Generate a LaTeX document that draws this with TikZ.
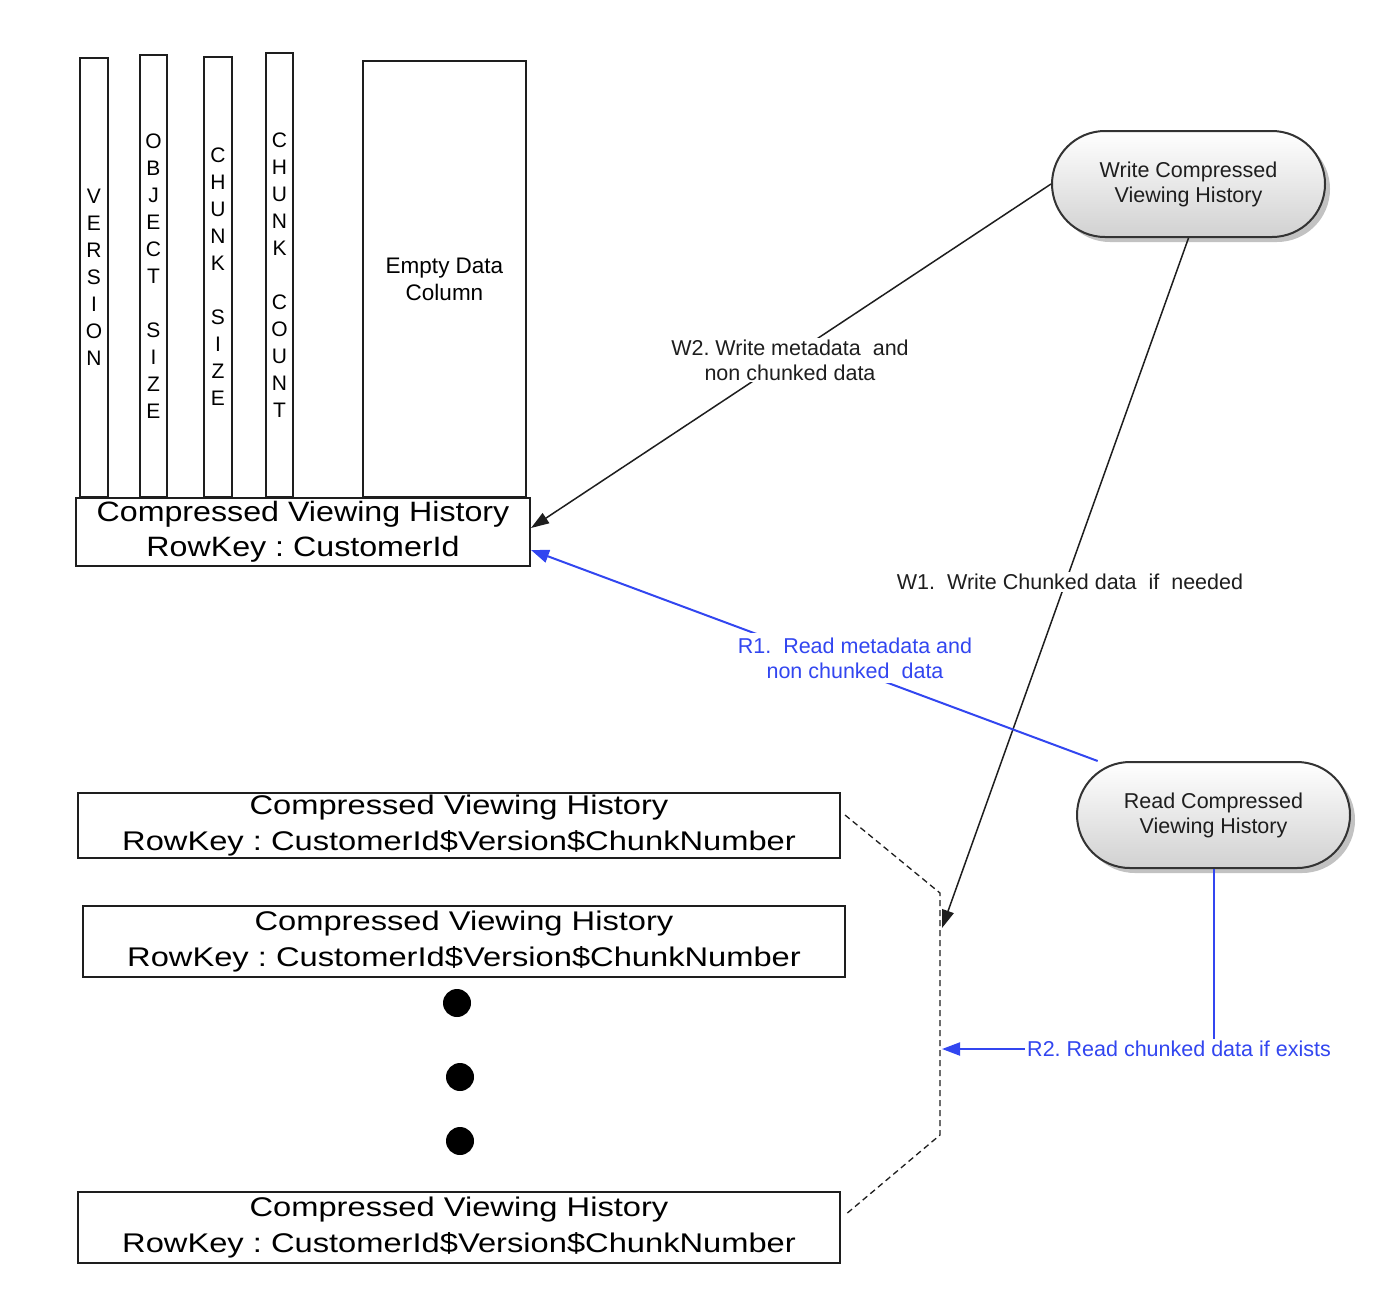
\documentclass[tikz,border=0pt]{standalone}
\usepackage{fontspec}
\setmainfont{Liberation Sans}
\newfontfamily\hdrfont[FakeStretch=1.15]{Liberation Sans}
\newfontfamily\rowfont[FakeStretch=1.21]{Liberation Sans}
\usetikzlibrary{arrows.meta,shadows}
\definecolor{rblue}{RGB}{50,70,240}
\definecolor{ink}{RGB}{30,30,30}
\frenchspacing
\begin{document}
\begin{tikzpicture}[x=1pt,y=-1pt,
  colbox/.style={draw=ink,line width=2pt,inner sep=0pt,align=center,font=\fontsize{21}{27}\selectfont},
  hdrbox/.style={draw=ink,line width=2pt,fill=white,inner sep=0pt,minimum width=454pt,minimum height=68pt,align=center,font=\hdrfont\fontsize{28}{35}\selectfont},
  chunkbox/.style={draw=ink,line width=2pt,fill=white,inner sep=0pt,minimum width=762pt,align=center,font=\rowfont\fontsize{27}{36}\selectfont},
  proc/.style={draw=black!80,line width=2pt,rounded corners=53pt,minimum width=273pt,minimum height=106pt,top color=white,bottom color=black!18,align=center,font=\fontsize{21.5}{25}\selectfont,text=ink,drop shadow={shadow xshift=5pt,shadow yshift=-5pt,fill=black!40,opacity=0.6}},
  lbl/.style={fill=white,inner sep=2pt,align=center,font=\fontsize{21.5}{25}\selectfont,text=ink},
  blbl/.style={lbl,text=rblue},
  warrow/.style={draw=ink,line width=1.5pt,-{Triangle[length=18pt,width=12pt]}},
  rarrow/.style={draw=rblue,line width=2pt,-{Triangle[length=18pt,width=13pt]}},
  dot/.style={circle,fill=black,inner sep=0pt,minimum size=28pt}
]
\useasboundingbox (0,0) rectangle (1388,1304);

% columns
\node[colbox,minimum width=28pt,minimum height=439pt] (ver) at (94,277.5) {V\\E\\R\\S\\I\\O\\N};
\node[colbox,minimum width=27pt,minimum height=442pt] (objsize) at (153.5,276) {O\\B\\J\\E\\C\\T\\[27pt]S\\I\\Z\\E};
\node[colbox,minimum width=28pt,minimum height=440pt] (chsize) at (218,277) {C\\H\\U\\N\\K\\[27pt]S\\I\\Z\\E};
\node[colbox,minimum width=27pt,minimum height=444pt] (chcount) at (279.5,275) {C\\H\\U\\N\\K\\[27pt]C\\O\\U\\N\\T};
\node[colbox,minimum width=163pt,minimum height=436pt,font=\fontsize{22.5}{27}\selectfont] (empty) at (444.5,279) {Empty Data\\Column};

% header row
\node[hdrbox] (hdr) at (303,532) {Compressed Viewing History\\RowKey : CustomerId};

% chunk rows
\node[chunkbox,minimum height=65pt] (c1) at (459,825.5) {Compressed Viewing History\\RowKey : CustomerId\$Version\$ChunkNumber};
\node[chunkbox,minimum height=71pt] (c2) at (464,941.5) {Compressed Viewing History\\RowKey : CustomerId\$Version\$ChunkNumber};
\node[chunkbox,minimum height=71pt] (c3) at (459,1227.5) {Compressed Viewing History\\RowKey : CustomerId\$Version\$ChunkNumber};

% dots
\node[dot] (dA) at (457,1003) {};
\node[dot] (dB) at (460,1077) {};
\node[dot] (dC) at (460,1141) {};

% processes
\node[proc] (write) at (1188.5,184) {Write Compressed\\Viewing History};
\node[proc] (read) at (1213.5,815) {Read Compressed\\Viewing History};

% bracket
\coordinate (b1) at (845,815);
\coordinate (b2) at (940,893);
\coordinate (b3) at (940,1135);
\coordinate (b4) at (845,1215);
\coordinate (w1end) at (942,928);
\coordinate (r2end) at (942,1049);
\draw[ink,line width=1.3pt,dash pattern=on 6pt off 4pt] (b1) -- (b2) -- (b3) -- (b4);

% connectors
\draw[warrow] (write.west) -- ([yshift=4pt]hdr.east);
\node[lbl] (w2lbl) at (790,360) {W2. Write metadata\ \ and\\non chunked data};
\draw[warrow] (write.south) -- (w1end);
\node[lbl] (w1lbl) at (1070,582) {W1.\ \ Write Chunked data\ \ if\ \ needed};
\draw[rarrow] (read.155) -- ([yshift=-18pt]hdr.east);
\node[blbl,inner xsep=6pt,inner ysep=5pt] (r1lbl) at (855,658) {R1.\ \ Read metadata and\\non chunked\ \ data};
\draw[rarrow] (read.south) |- (r2end);
\node[blbl] (r2lbl) at (1179,1049) {R2. Read chunked data if exists};
\end{tikzpicture}
\end{document}
